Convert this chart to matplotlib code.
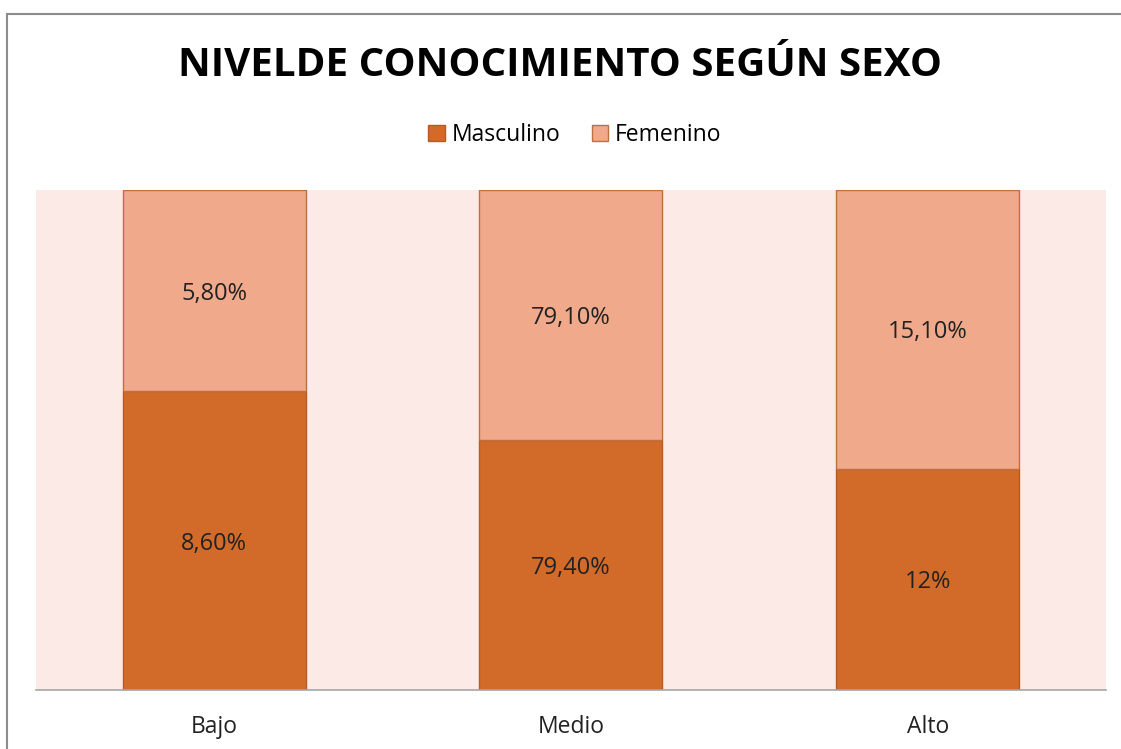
import numpy as np
import matplotlib.pyplot as plt
from matplotlib.patches import Rectangle

plt.rcParams['font.family'] = ['Open Sans', 'DejaVu Sans']

niveles = ['Bajo', 'Medio', 'Alto']
masculino = [8.6, 79.4, 12.0]
femenino = [5.8, 79.1, 15.1]
etiquetas_masc = ['8,60%', '79,40%', '12%']
etiquetas_fem = ['5,80%', '79,10%', '15,10%']

masc = np.array(masculino)
fem = np.array(femenino)
total = masc + fem
masc_frac = masc / total
fem_frac = fem / total

fig = plt.figure(figsize=(11.21, 7.49), dpi=100)
ax = fig.add_axes([0.0321, 0.0788, 0.9545, 0.6675])
ax.set_facecolor('#FBEAE6')

x = np.arange(len(niveles))
ancho = 0.513
b1 = ax.bar(x, masc_frac, ancho, color='#D26B2A', edgecolor='#B85A22', linewidth=1, label='Masculino')
b2 = ax.bar(x, fem_frac, ancho, bottom=masc_frac, color='#F0A98A', edgecolor='#C0703E', linewidth=1, label='Femenino')

for i in range(len(niveles)):
    ax.text(x[i], masc_frac[i] / 2, etiquetas_masc[i], ha='center', va='center_baseline',
            fontsize=17, color='#222222')
    ax.text(x[i], masc_frac[i] + fem_frac[i] / 2, etiquetas_fem[i], ha='center', va='center_baseline',
            fontsize=17, color='#222222')

ax.set_xlim(-0.5, 2.5)
ax.set_ylim(0, 1)
ax.set_yticks([])
ax.set_xticks(x)
ax.set_xticklabels(niveles, fontsize=16.5, color='#222222')
ax.tick_params(axis='x', length=0, pad=18)
for s in ['top', 'left', 'right']:
    ax.spines[s].set_visible(False)
ax.spines['bottom'].set_color('#A6A6A6')
ax.spines['bottom'].set_linewidth(1.2)

fig.text(0.5, 0.912, 'NIVELDE CONOCIMIENTO SEGÚN SEXO', ha='center', va='center',
         fontsize=29, fontweight='bold', color='black')

fig.legend(handles=[b1, b2], loc='center', bbox_to_anchor=(0.513, 0.82), ncol=2, frameon=False,
           fontsize=16.5, handlelength=0.7, handleheight=0.7, handletextpad=0.3, columnspacing=1.4)

fig.patches.append(Rectangle((7 / 1121, -0.1), 1.2, 0.1 + (749 - 14) / 749, transform=fig.transFigure,
                             fill=False, edgecolor='#8C8C8C', linewidth=1.5))

fig.savefig('out.png', dpi=100)
